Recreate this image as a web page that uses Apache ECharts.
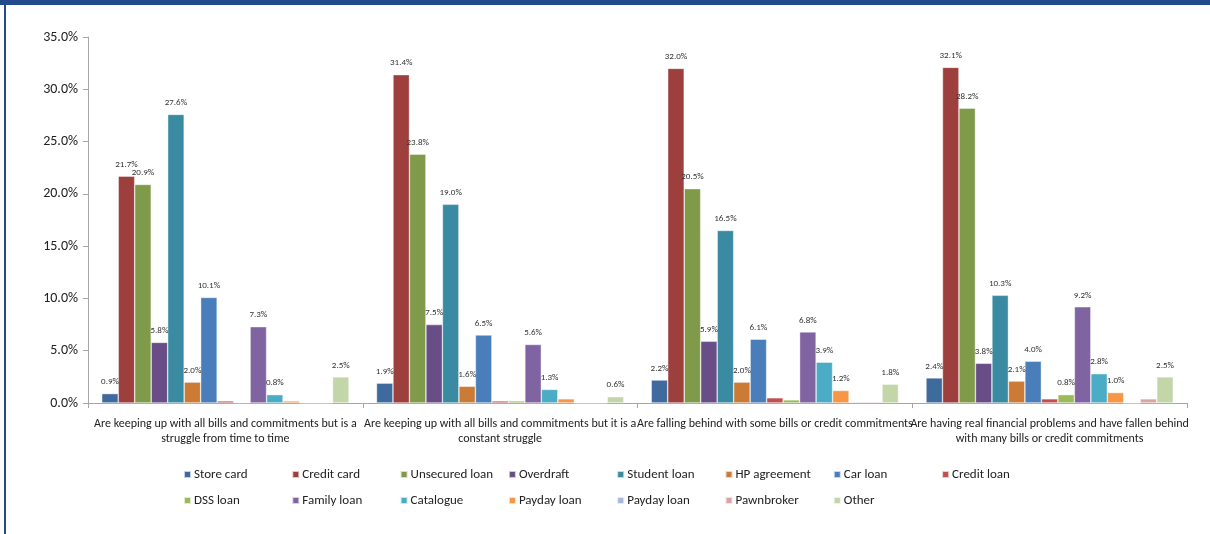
<!DOCTYPE html>
<html>
<head>
<meta charset="utf-8">
<script src="https://cdn.jsdelivr.net/npm/echarts@6/dist/echarts.min.js"></script>
<style>
html,body{margin:0;padding:0;background:#fff;}
#c{width:1210px;height:534px;}
</style>
</head>
<body>
<div id="c"></div>
<script>
const categories = [
  "Are keeping up with all bills and commitments but is a\nstruggle from time to time",
  "Are keeping up with all bills and commitments but it is a\nconstant struggle",
  "Are falling behind with some bills or credit commitments",
  "Are having real financial problems and have fallen behind\nwith many bills or credit commitments"
];
const seriesNames = ["Store card","Credit card","Unsecured loan","Overdraft","Student loan","HP agreement","Car loan","Credit loan","DSS loan","Family loan","Catalogue","Payday loan","Payday loan","Pawnbroker","Other"];
const storeCard    = [0.9, 1.9, 2.2, 2.4];
const creditCard   = [21.7, 31.4, 32.0, 32.1];
const unsecured    = [20.9, 23.8, 20.5, 28.2];
const overdraft    = [5.8, 7.5, 5.9, 3.8];
const studentLoan  = [27.6, 19.0, 16.5, 10.3];
const hpAgreement  = [2.0, 1.6, 2.0, 2.1];
const carLoan      = [10.1, 6.5, 6.1, 4.0];
const creditLoan   = [0.2, 0.2, 0.5, 0.4];
const dssLoan      = [0.05, 0.2, 0.3, 0.8];
const familyLoan   = [7.3, 5.6, 6.8, 9.2];
const catalogue    = [0.8, 1.3, 3.9, 2.8];
const paydayLoan   = [0.2, 0.4, 1.2, 1.0];
const paydayLoan2  = [0, 0, 0.1, 0];
const pawnbroker   = [0, 0, 0.1, 0.4];
const other        = [2.5, 0.6, 1.8, 2.5];
const yTicks = [0, 5, 10, 15, 20, 25, 30, 35];

const seriesData = [storeCard, creditCard, unsecured, overdraft, studentLoan, hpAgreement, carLoan, creditLoan, dssLoan, familyLoan, catalogue, paydayLoan, paydayLoan2, pawnbroker, other];
const colors = ["#3f6a9e","#9d3f3d","#7f9a48","#684d87","#3a8ba2","#cc7b37","#4a7ebb","#c0504d","#9bbb59","#8064a2","#4bacc6","#f79646","#a7b9da","#d8a5a4","#c3d6a9"];

const FONT = "Carlito, Lato, 'Liberation Sans', sans-serif";

const series = seriesData.map((d, i) => ({
  name: seriesNames[i] + (i === 12 ? '\u200b' : ''),
  type: 'bar',
  data: d,
  barGap: '0%',
  barCategoryGap: '10%',
  itemStyle: { color: colors[i], borderColor: 'rgba(255,255,255,0.7)', borderWidth: 0.6 },
  label: {
    show: true,
    position: 'top',
    distance: 7,
    fontFamily: FONT,
    fontSize: 9,
    color: '#333',
    formatter: p => p.value >= 0.55 ? p.value.toFixed(1) + '%' : ''
  }
}));

const legends = series.map((s, i) => ({
  data: [s.name],
  left: 183 + (i % 8) * 108.3,
  top: (i < 8 ? 468 : 494),
  itemWidth: 7,
  itemHeight: 7,
  icon: 'rect',
  itemGap: 0,
  padding: 0,
  selectedMode: false,
  textStyle: { fontFamily: FONT, fontSize: 13, color: '#222', padding: [0, 0, 0, -2] },
  formatter: n => n.replace('\u200b', '')
}));

const chart = echarts.init(document.getElementById('c'));
chart.setOption({
  animation: false,
  backgroundColor: '#fff',
  color: colors,
  grid: { left: 88, right: 23, top: 37, bottom: 131, containLabel: false },
  legend: legends,
  xAxis: {
    type: 'category',
    data: categories,
    axisLine: { lineStyle: { color: '#a6a6a6', width: 1 } },
    axisTick: { show: true, alignWithLabel: false, length: 5, lineStyle: { color: '#a6a6a6' } },
    axisLabel: { interval: 0, fontFamily: FONT, fontSize: 12, color: '#222', lineHeight: 15, margin: 13 }
  },
  yAxis: {
    type: 'value',
    min: 0,
    max: 35,
    interval: 5,
    axisLine: { show: true, lineStyle: { color: '#a6a6a6', width: 1 } },
    axisTick: { show: true, length: 5, lineStyle: { color: '#a6a6a6' } },
    splitLine: { show: false },
    axisLabel: { fontFamily: FONT, fontSize: 14, color: '#222', margin: 10, formatter: v => yTicks.includes(v) ? v.toFixed(1) + '%' : '' }
  },
  series: series,
  graphic: [
    { type: 'rect', left: 0, top: 0, shape: { width: 1210, height: 5 }, style: { fill: '#234a8c' } },
    { type: 'rect', left: 4, top: 0, shape: { width: 2, height: 534 }, style: { fill: '#234a8c' } }
  ]
});
</script>
</body>
</html>
